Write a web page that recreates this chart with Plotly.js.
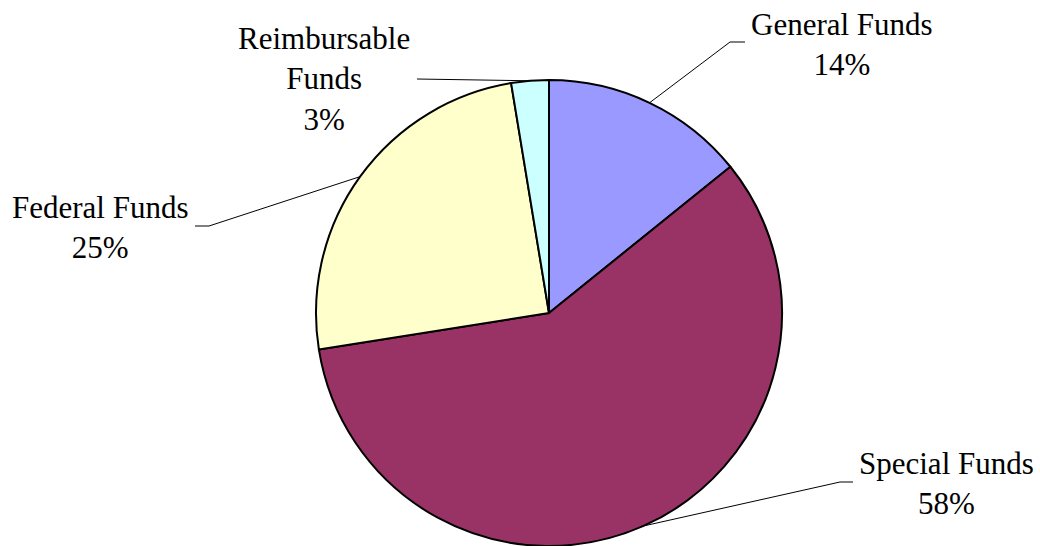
<!DOCTYPE html>
<html>
<head>
<meta charset="utf-8">
<script src="https://cdn.plot.ly/plotly-3.0.1.min.js"></script>
<style>html,body{margin:0;padding:0;background:#fff;}</style>
</head>
<body>
<div id="chart" style="width:1040px;height:546px;"></div>
<script>
// ---- data ----
const categories = ['General Funds', 'Special Funds', 'Federal Funds', 'Reimbursable Funds'];
const labelLines = ['General Funds', 'Special Funds', 'Federal Funds', 'Reimbursable<br>Funds'];
const values = [14.2, 58.3, 24.9, 2.6];
const sliceColors = ['#9999FF', '#993366', '#FFFFCC', '#CCFFFF'];

// ---- layout / style (pixels) ----
const W = 1040, H = 546;
const CX = 549, CY = 313, R = 233;
const labelPos = [[842, 44], [946, 483], [100, 227], [324, 79]];
const leaderBends = [
  [[730, 42], [745, 42]],
  [[840, 482], [853, 482]],
  [[209, 226], [195, 226]],
  [[417, 79]]
];

const px = x => x / W;
const py = y => 1 - y / H;

const total = values.reduce((a, b) => a + b, 0);
const annotations = [];
const shapes = [];
let cum = 0;
values.forEach((v, i) => {
  const pct = Math.round(v / total * 100);
  annotations.push({
    xref: 'paper', yref: 'paper',
    x: px(labelPos[i][0]), y: py(labelPos[i][1]),
    xanchor: 'center', yanchor: 'middle',
    text: labelLines[i] + '<br>' + pct + '%',
    showarrow: false, align: 'center',
    font: {family: 'Liberation Serif', size: 31, color: '#000'}
  });
  const th = 2 * Math.PI * (cum + v / 2) / total;
  const sx = CX + R * Math.sin(th), sy = CY - R * Math.cos(th);
  let path = 'M ' + px(sx) + ' ' + py(sy);
  leaderBends[i].forEach(p => { path += ' L ' + px(p[0]) + ' ' + py(p[1]); });
  shapes.push({type: 'path', xref: 'paper', yref: 'paper', path: path,
    line: {color: '#000', width: 1}});
  cum += v;
});

const trace = {
  type: 'pie',
  labels: categories,
  values: values,
  sort: false,
  direction: 'clockwise',
  rotation: 0,
  textinfo: 'none',
  hoverinfo: 'label+percent',
  marker: {colors: sliceColors, line: {color: '#000', width: 2}},
  domain: {x: [px(CX - R), px(CX + R)], y: [py(CY + R), py(CY - R)]}
};

Plotly.newPlot('chart', [trace], {
  width: W, height: H,
  margin: {l: 0, r: 0, t: 0, b: 0},
  showlegend: false,
  paper_bgcolor: '#fff',
  font: {family: 'Liberation Serif'},
  annotations: annotations,
  shapes: shapes
}, {displayModeBar: false, staticPlot: true});
</script>
</body>
</html>
